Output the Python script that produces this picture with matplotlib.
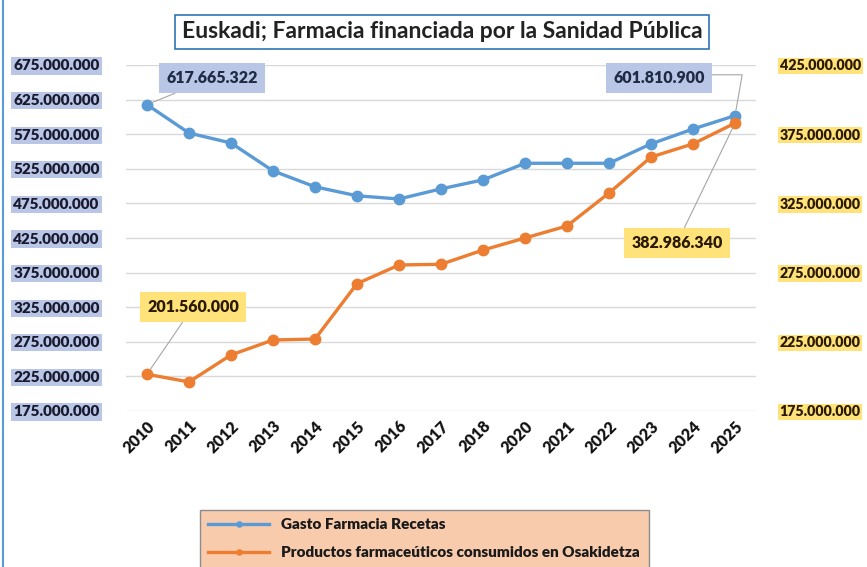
import matplotlib
matplotlib.use("Agg")
import matplotlib.pyplot as plt
from matplotlib.patches import Rectangle
from matplotlib.ticker import FuncFormatter

years = ["2010", "2011", "2012", "2013", "2014", "2015", "2016", "2017",
         "2018", "2020", "2021", "2022", "2023", "2024", "2025"]
gasto_recetas = [617665322, 576700000, 562300000, 522000000, 499000000, 486000000,
                 481400000, 496000000, 509000000, 533000000, 533000000, 533000000,
                 561000000, 582500000, 601810900]
productos_osakidetza = [201560000, 196000000, 215500000, 226300000, 227000000, 267000000,
                        280500000, 281000000, 291300000, 300000000, 308700000, 332500000,
                        358500000, 368000000, 382986340]
left_ticks = [175e6, 225e6, 275e6, 325e6, 375e6, 425e6, 475e6, 525e6, 575e6, 625e6, 675e6]
right_ticks = [175e6, 225e6, 275e6, 325e6, 375e6, 425e6]

title = "Euskadi; Farmacia financiada por la Sanidad Pública"
label_a = "Gasto Farmacia Recetas"
label_b = "Productos farmaceúticos consumidos en Osakidetza"

plt.rcParams['font.family'] = ['Lato', 'DejaVu Sans']

W, H = 867, 567
fig = plt.figure(figsize=(W / 100, H / 100), dpi=100)
fig.patch.set_facecolor('white')

ax_l, ax_r, ax_t, ax_b = 126, 756, 65, 411
ax = fig.add_axes([ax_l / W, 1 - ax_b / H, (ax_r - ax_l) / W, (ax_b - ax_t) / H])
ax2 = ax.twinx()

blue = '#5B9BD5'
orange = '#ED7D31'
x = list(range(len(years)))

ax.plot(x, gasto_recetas, color=blue, lw=2.4, marker='o', ms=7.5, zorder=3, label=label_a)
ax2.plot(x, productos_osakidetza, color=orange, lw=2.4, marker='o', ms=7.5, zorder=3, label=label_b)

ax.set_xlim(-0.5, len(years) - 0.5)
ax.set_ylim(175e6, 675e6)
ax2.set_ylim(175e6, 425e6)
ax.set_yticks(left_ticks)
ax2.set_yticks(right_ticks)

fmt = FuncFormatter(lambda v, p: f"{int(round(v)):,}".replace(",", "."))
ax.yaxis.set_major_formatter(fmt)
ax2.yaxis.set_major_formatter(fmt)

ax.grid(axis='y', color='#D9D9D9', lw=1)
ax.set_axisbelow(True)
for a in (ax, ax2):
    for s in a.spines.values():
        s.set_visible(False)
    a.tick_params(length=0)

ax.set_xticks(x)
ax.set_xticklabels(years, rotation=45, ha='right', rotation_mode='anchor',
                   fontsize=11.5, fontweight='heavy', color='#111111')
ax.tick_params(axis='x', pad=5)

ax.tick_params(axis='y', pad=19)
for lab in ax.get_yticklabels():
    lab.set_fontsize(11)
    lab.set_fontweight('heavy')
    lab.set_color('#1A1A2E')
    lab.set_bbox(dict(facecolor='#B9C6E6', edgecolor='none', pad=1.5))
ax2.tick_params(axis='y', pad=17)
for lab in ax2.get_yticklabels():
    lab.set_fontsize(10.3)
    lab.set_fontweight('heavy')
    lab.set_color('#2A1A00')
    lab.set_bbox(dict(facecolor='#FFE27A', edgecolor='none', pad=1.2))

def fpx(px, py):
    return (px, H - py)

ann_kw = dict(fontsize=11.5, fontweight='heavy', ha='center', va='center',
              textcoords='figure pixels', zorder=5)
ax.annotate("617.665.322", xy=(0, gasto_recetas[0]), xytext=fpx(212, 78),
            color='#1F2A44',
            bbox=dict(boxstyle='square,pad=0.45', facecolor='#B9C6E6', edgecolor='none'),
            arrowprops=dict(arrowstyle='-', color='#A6A6A6', lw=0.8, shrinkA=0, shrinkB=4),
            **ann_kw)
ax.annotate("601.810.900", xy=(14, gasto_recetas[14]), xytext=fpx(659, 78),
            color='#1F2A44',
            bbox=dict(boxstyle='square,pad=0.45', facecolor='#B9C6E6', edgecolor='none'),
            arrowprops=dict(arrowstyle='-', color='#A6A6A6', lw=0.8, shrinkA=0, shrinkB=4,
                            relpos=(1, 0.7),
                            connectionstyle='angle,angleA=0,angleB=80,rad=0'),
            **ann_kw)
ax2.annotate("201.560.000", xy=(0, productos_osakidetza[0]), xytext=fpx(193, 307),
             color='#2A1A00',
             bbox=dict(boxstyle='square,pad=0.45', facecolor='#FFE27A', edgecolor='none'),
             arrowprops=dict(arrowstyle='-', color='#A6A6A6', lw=0.8, shrinkA=0, shrinkB=4),
             **ann_kw)
ax2.annotate("382.986.340", xy=(14, productos_osakidetza[14]), xytext=fpx(677, 243),
             color='#2A1A00',
             bbox=dict(boxstyle='square,pad=0.45', facecolor='#FFE27A', edgecolor='none'),
             arrowprops=dict(arrowstyle='-', color='#A6A6A6', lw=0.8, shrinkA=0, shrinkB=4),
             **ann_kw)

# title
fig.text(442 / W, 1 - 32 / H, title, ha='center', va='center', fontsize=16.5,
         fontweight='bold', color='#222222',
         bbox=dict(boxstyle='square,pad=0.3', facecolor='white', edgecolor='#2E75B6', lw=1.2))

# legend
h1, l1 = ax.get_legend_handles_labels()
h2, l2 = ax2.get_legend_handles_labels()
leg = fig.legend(h1 + h2, l1 + l2, loc='upper left',
                 bbox_to_anchor=(192 / W, 1 - 502 / H), frameon=True, fancybox=False,
                 prop={'weight': 'heavy', 'size': 11}, handlelength=4.0,
                 labelspacing=1.0, borderpad=0.55, markerscale=0.5)
leg.get_frame().set_facecolor('#F8CBAD')
leg.get_frame().set_edgecolor('#8C8C8C')
leg.get_frame().set_alpha(1)
for t in leg.get_texts():
    t.set_color('#1A1A1A')

# outer frame line at left edge
fig.add_artist(Rectangle((3 / W, 0), 0.0, 1, transform=fig.transFigure,
                         edgecolor='#5B9BD5', lw=1.5, fill=False))

fig.savefig("out.png", dpi=100)
